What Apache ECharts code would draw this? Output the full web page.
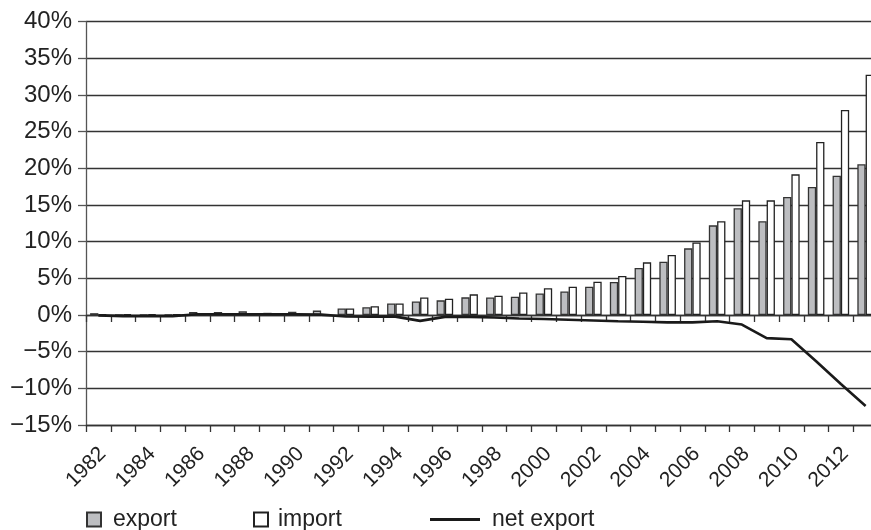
<!DOCTYPE html>
<html>
<head>
<meta charset="utf-8">
<script src="https://cdn.jsdelivr.net/npm/echarts@6/dist/echarts.min.js"></script>
<style>
html,body{margin:0;padding:0;background:#fff;}
#chart{width:871px;height:530px;}
</style>
</head>
<body>
<div id="chart"></div>
<script>
const years = ['1982','1983','1984','1985','1986','1987','1988','1989','1990','1991','1992','1993','1994','1995','1996','1997','1998','1999','2000','2001','2002','2003','2004','2005','2006','2007','2008','2009','2010','2011','2012','2013'];
const exportVals = [0.25,0.05,0.05,0.05,0.4,0.4,0.5,0.3,0.45,0.6,0.88,1.05,1.57,1.84,2.0,2.41,2.38,2.5,2.95,3.2,3.86,4.5,6.41,7.27,9.09,12.23,14.55,12.8,16.09,17.45,19.0,20.55];
const importVals = [0.1,0.1,0.1,0.1,0.1,0.1,0.1,0.1,0.1,0.1,0.88,1.2,1.57,2.38,2.23,2.82,2.64,3.07,3.64,3.86,4.55,5.32,7.18,8.18,9.9,12.8,15.64,15.64,19.18,23.6,27.95,32.77];
const netVals = [-0.05,-0.15,-0.15,-0.15,0.1,0.1,0.1,0.1,0.1,0.05,-0.2,-0.23,-0.22,-0.8,-0.25,-0.25,-0.33,-0.47,-0.55,-0.65,-0.75,-0.85,-0.92,-1.0,-1.0,-0.85,-1.3,-3.15,-3.3,-6.3,-9.4,-12.4];

const FONT = 'Liberation Sans, Arial, Helvetica, sans-serif';
const chart = echarts.init(document.getElementById('chart'), null, {renderer:'canvas'});
const lineCol = '#333';
chart.setOption({
  animation: false,
  backgroundColor: '#fff',
  grid: {left: 86, top: 21.7, width: 792, height: 403.3, containLabel: false, outerBoundsMode: 'none'},
  legend: [
    {data:['export'], left: 86, top: 508, padding: 0, itemWidth: 14, itemHeight: 14, icon: 'rect',
     textStyle:{fontSize: 23, fontFamily: FONT, color:'#222', padding:[0,0,0,7]}},
    {data:['import'], left: 253, top: 508, padding: 0, itemWidth: 14, itemHeight: 14, icon: 'rect',
     textStyle:{fontSize: 23, fontFamily: FONT, color:'#222', padding:[0,0,0,5]}},
    {data:['net export'], left: 430, top: 508, padding: 0, itemWidth: 50, itemHeight: 3, icon: 'rect',
     itemStyle:{color:'#1a1a1a'},
     textStyle:{fontSize: 23, fontFamily: FONT, color:'#222', padding:[0,0,0,7]}}
  ],
  xAxis: [
    {type:'category', data: years, position:'bottom', boundaryGap: true,
     axisLine:{onZero:false, lineStyle:{color:lineCol, width:1.3}},
     axisTick:{show:true, interval:0, length:7, lineStyle:{color:lineCol, width:1.3}},
     axisLabel:{interval:1, rotate:45, fontSize:21, fontFamily: FONT, color:'#222', margin:30, padding:[0,-6,0,0]},
     splitLine:{show:false}},
    {type:'category', data: years, position:'top', boundaryGap: true,
     axisLine:{onZero:true, lineStyle:{color:lineCol, width:1.3}},
     axisTick:{show:true, inside:true, interval:0, length:7, lineStyle:{color:lineCol, width:1.3}},
     axisLabel:{show:false}, splitLine:{show:false}}
  ],
  yAxis: {type:'value', min:-15, max:40, interval:5,
    axisLine:{show:true, lineStyle:{color:'#555', width:1.3}},
    axisTick:{show:true, length:8, lineStyle:{color:'#555', width:1.3}},
    splitLine:{show:true, lineStyle:{color:lineCol, width:1.3}},
    axisLabel:{fontSize:24, fontFamily: FONT, color:'#222', margin:14,
      formatter: v => (v < 0 ? '\u2212' + Math.abs(v) : v) + '%'}},
  series: [
    {name:'export', type:'bar', xAxisIndex:0, data: exportVals, barWidth:'33.5%', barGap:'0%',
     itemStyle:{color:'#bdbec1', borderColor:'#333', borderWidth:1.3}},
    {name:'import', type:'bar', xAxisIndex:0, data: importVals, barWidth:'33.5%', barGap:'0%',
     itemStyle:{color:'#ffffff', borderColor:'#222', borderWidth:1.3}},
    {name:'net export', type:'line', xAxisIndex:0, data: netVals, symbol:'none', z:5,
     lineStyle:{color:'#1a1a1a', width:2.6}, itemStyle:{color:'#1a1a1a'}}
  ]
});
</script>
</body>
</html>
